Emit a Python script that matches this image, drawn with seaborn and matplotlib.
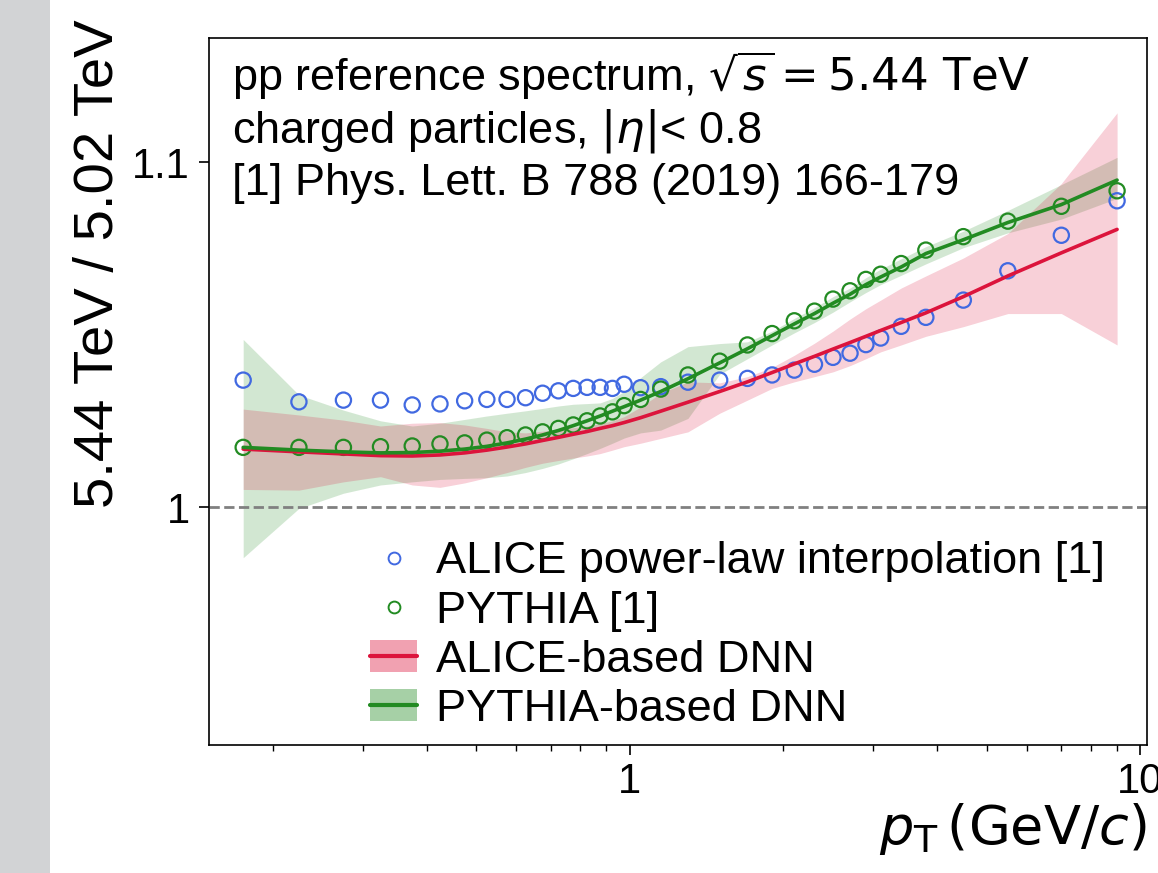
import numpy as np
import pandas as pd
import matplotlib
matplotlib.use("Agg")
import matplotlib.pyplot as plt
import seaborn as sns
from matplotlib.lines import Line2D
from matplotlib.patches import Patch, Rectangle
from matplotlib.ticker import FixedLocator, FixedFormatter, NullFormatter, LogLocator

# ---------------- data ----------------
pt = [0.175, 0.225, 0.275, 0.325, 0.375, 0.425, 0.475, 0.525, 0.575, 0.625,
      0.675, 0.725, 0.775, 0.825, 0.875, 0.925, 0.975, 1.05, 1.15, 1.3,
      1.5, 1.7, 1.9, 2.1, 2.3, 2.5, 2.7, 2.9, 3.1, 3.4, 3.8, 4.5, 5.5, 7.0, 9.0]

alice_powerlaw = [1.0368, 1.0305, 1.0310, 1.0310, 1.0296, 1.0299, 1.0308, 1.0312, 1.0312, 1.0317,
                  1.0330, 1.0337, 1.0344, 1.0347, 1.0347, 1.0344, 1.0356, 1.0346, 1.0349, 1.0362,
                  1.0368, 1.0373, 1.0383, 1.0397, 1.0414, 1.0434, 1.0446, 1.0471, 1.0490, 1.0524,
                  1.0550, 1.0600, 1.0685, 1.0788, 1.0888]

pythia = [1.0173, 1.0173, 1.0173, 1.0175, 1.0177, 1.0183, 1.0186, 1.0194, 1.0201, 1.0209,
          1.0218, 1.0228, 1.0238, 1.0250, 1.0264, 1.0276, 1.0294, 1.0312, 1.0342, 1.0383,
          1.0423, 1.0470, 1.0503, 1.0540, 1.0568, 1.0603, 1.0627, 1.0660, 1.0675, 1.0706,
          1.0745, 1.0784, 1.0829, 1.0872, 1.0917]

alice_dnn = [1.0168, 1.0160, 1.0154, 1.0149, 1.0148, 1.0151, 1.0157, 1.0165, 1.0174, 1.0183,
             1.0193, 1.0202, 1.0211, 1.0219, 1.0228, 1.0236, 1.0245, 1.0259, 1.0278, 1.0304,
             1.0335, 1.0363, 1.0390, 1.0415, 1.0437, 1.0458, 1.0477, 1.0495, 1.0512, 1.0535,
             1.0563, 1.0610, 1.0670, 1.0737, 1.0805]
alice_dnn_lo = [1.0051, 1.0049, 1.0073, 1.0088, 1.0064, 1.0057, 1.0070, 1.0085, 1.0100, 1.0115,
                1.0127, 1.0135, 1.0142, 1.0148, 1.0155, 1.0165, 1.0175, 1.0185, 1.0199, 1.0218,
                1.0272, 1.0310, 1.0344, 1.0363, 1.0378, 1.0392, 1.0410, 1.0430, 1.0450, 1.0470,
                1.0495, 1.0523, 1.0561, 1.0561, 1.0470]
alice_dnn_hi = [1.0284, 1.0267, 1.0252, 1.0235, 1.0243, 1.0245, 1.0238, 1.0228, 1.0218, 1.0215,
                1.0220, 1.0225, 1.0230, 1.0235, 1.0242, 1.0250, 1.0262, 1.0290, 1.0330, 1.0363,
                1.0360, 1.0378, 1.0405, 1.0440, 1.0475, 1.0510, 1.0545, 1.0575, 1.0600, 1.0635,
                1.0670, 1.0722, 1.0793, 1.0938, 1.1143]

pythia_dnn = [1.0173, 1.0165, 1.0160, 1.0157, 1.0158, 1.0162, 1.0168, 1.0176, 1.0186, 1.0197,
              1.0209, 1.0222, 1.0236, 1.0250, 1.0264, 1.0278, 1.0291, 1.0310, 1.0335, 1.0372,
              1.0418, 1.0459, 1.0497, 1.0531, 1.0561, 1.0591, 1.0617, 1.0645, 1.0667, 1.0696,
              1.0735, 1.0775, 1.0825, 1.0877, 1.0948]
pythia_dnn_lo = [0.9853, 0.9996, 1.0040, 1.0064, 1.0073, 1.0080, 1.0083, 1.0085, 1.0090, 1.0100,
                 1.0112, 1.0125, 1.0140, 1.0155, 1.0170, 1.0185, 1.0200, 1.0215, 1.0223, 1.0257,
                 1.0385, 1.0430, 1.0470, 1.0505, 1.0535, 1.0565, 1.0595, 1.0622, 1.0645, 1.0672,
                 1.0705, 1.0752, 1.0795, 1.0835, 1.0895]
pythia_dnn_hi = [1.0486, 1.0325, 1.0281, 1.0250, 1.0235, 1.0243, 1.0254, 1.0264, 1.0272, 1.0279,
                 1.0286, 1.0293, 1.0298, 1.0300, 1.0302, 1.0315, 1.0335, 1.0375, 1.0421, 1.0465,
                 1.0474, 1.0479, 1.0510, 1.0547, 1.0578, 1.0610, 1.0635, 1.0665, 1.0690, 1.0720,
                 1.0755, 1.0800, 1.0860, 1.0935, 1.1014]

labels = ["ALICE power-law interpolation [1]", "PYTHIA [1]",
          "ALICE-based DNN", "PYTHIA-based DNN"]
xtick_vals = [1, 10]
xtick_labels = ["1", "10"]
ytick_vals = [1.0, 1.1]
ytick_labels = ["1", "1.1"]

# ---------------- style ----------------
sns.set_style("ticks")
plt.rcParams['font.family'] = ['Liberation Sans', 'DejaVu Sans']
plt.rcParams['mathtext.fontset'] = 'dejavusans'
plt.rcParams['text.color'] = 'black'
plt.rcParams['axes.labelcolor'] = 'black'
plt.rcParams['xtick.color'] = 'black'
plt.rcParams['ytick.color'] = 'black'
plt.rcParams['axes.edgecolor'] = 'black'

BLUE = "royalblue"
GREEN = "forestgreen"
RED = "crimson"

fig = plt.figure(figsize=(11.58, 8.73), dpi=100)
fig.patches.append(Rectangle((0, 0), 50 / 1158, 1, transform=fig.transFigure,
                             facecolor="#d2d3d5", edgecolor="none", zorder=0))
ax = fig.add_axes([209 / 1158, 1 - 745 / 873, (1147 - 209) / 1158, (745 - 38) / 873])
ax.set_facecolor("white")

df = pd.DataFrame({"pt": pt, "alice": alice_powerlaw, "pythia": pythia,
                   "adnn": alice_dnn, "pdnn": pythia_dnn})

# bands
ax.fill_between(pt, pythia_dnn_lo, pythia_dnn_hi, color=GREEN, alpha=0.2, lw=0, zorder=1)
ax.fill_between(pt, alice_dnn_lo, alice_dnn_hi, color=RED, alpha=0.2, lw=0, zorder=1.1)

ax.axhline(1.0, color="gray", ls="--", lw=2, zorder=1.5)

# points
for col, c in (("alice", BLUE), ("pythia", GREEN)):
    sns.scatterplot(data=df, x="pt", y=col, ax=ax, s=120, marker="o",
                    facecolor="none", edgecolor=c, linewidth=1.6, zorder=2)
sc = [c for c in ax.collections if hasattr(c, "get_sizes") and len(c.get_sizes()) > 0
      and c.get_offsets().shape[0] == len(pt)]
for c, col in zip(sc, (BLUE, GREEN)):
    c.set_facecolor("none")
    c.set_edgecolor(col)
    c.set_linewidth(1.6)

# DNN lines
sns.lineplot(data=df, x="pt", y="adnn", ax=ax, color=RED, lw=2.6, zorder=3)
sns.lineplot(data=df, x="pt", y="pdnn", ax=ax, color=GREEN, lw=2.6, zorder=3.1)

ax.set_xscale("log")
ax.set_xlim(0.15, 10.3)
ax.set_ylim(0.931, 1.136)

ax.xaxis.set_major_locator(FixedLocator(xtick_vals))
ax.xaxis.set_major_formatter(FixedFormatter(xtick_labels))
ax.xaxis.set_minor_locator(LogLocator(base=10, subs=np.arange(2, 10)))
ax.xaxis.set_minor_formatter(NullFormatter())
ax.yaxis.set_major_locator(FixedLocator(ytick_vals))
ax.yaxis.set_major_formatter(FixedFormatter(ytick_labels))
ax.yaxis.set_minor_locator(FixedLocator([]))

ax.tick_params(axis="both", which="major", direction="out", length=7, width=1.2,
               labelsize=30, color="black", labelcolor="black")
ax.tick_params(axis="x", which="major", pad=5)
ax.tick_params(axis="y", which="major", pad=7)
ax.tick_params(axis="x", which="minor", direction="out", length=4, width=1.0, color="black")
for s in ax.spines.values():
    s.set_visible(True)
    s.set_linewidth(1.2)
    s.set_color("black")

ax.set_xlabel(r"$p_{\mathrm{T}}\,(\mathrm{GeV}/c)$", fontsize=39, loc="right")
ax.xaxis.set_label_coords(1.0, -0.079)
ax.set_ylabel("5.44 TeV / 5.02 TeV", fontsize=40.5, loc="top")
ax.yaxis.set_label_coords(-0.09, 1.026)

# annotation text
ax.text(0.025, 0.925, r"pp reference spectrum, $\sqrt{s} = 5.44\ \mathrm{TeV}$",
        transform=ax.transAxes, fontsize=32.5, va="baseline", ha="left")
ax.text(0.025, 0.8515, r"charged particles, $|\eta|$< 0.8",
        transform=ax.transAxes, fontsize=32.5, va="baseline", ha="left")
ax.text(0.025, 0.778, "[1] Phys. Lett. B 788 (2019) 166-179",
        transform=ax.transAxes, fontsize=32.5, va="baseline", ha="left")

# legend
handles = [
    Line2D([], [], ls="", marker="o", mfc="none", mec=BLUE, ms=8.5, mew=1.4),
    Line2D([], [], ls="", marker="o", mfc="none", mec=GREEN, ms=8.5, mew=1.4),
    (Patch(facecolor=RED, alpha=0.4, lw=0), Line2D([], [], color=RED, lw=3)),
    (Patch(facecolor=GREEN, alpha=0.4, lw=0), Line2D([], [], color=GREEN, lw=3)),
]
ax.legend(handles, labels, loc="lower left", bbox_to_anchor=(0.1525, -0.004),
          frameon=False, fontsize=32.5, handlelength=1.05, handletextpad=0.4,
          labelspacing=0.18, borderaxespad=0.0)

fig.savefig("out.png", dpi=100)
